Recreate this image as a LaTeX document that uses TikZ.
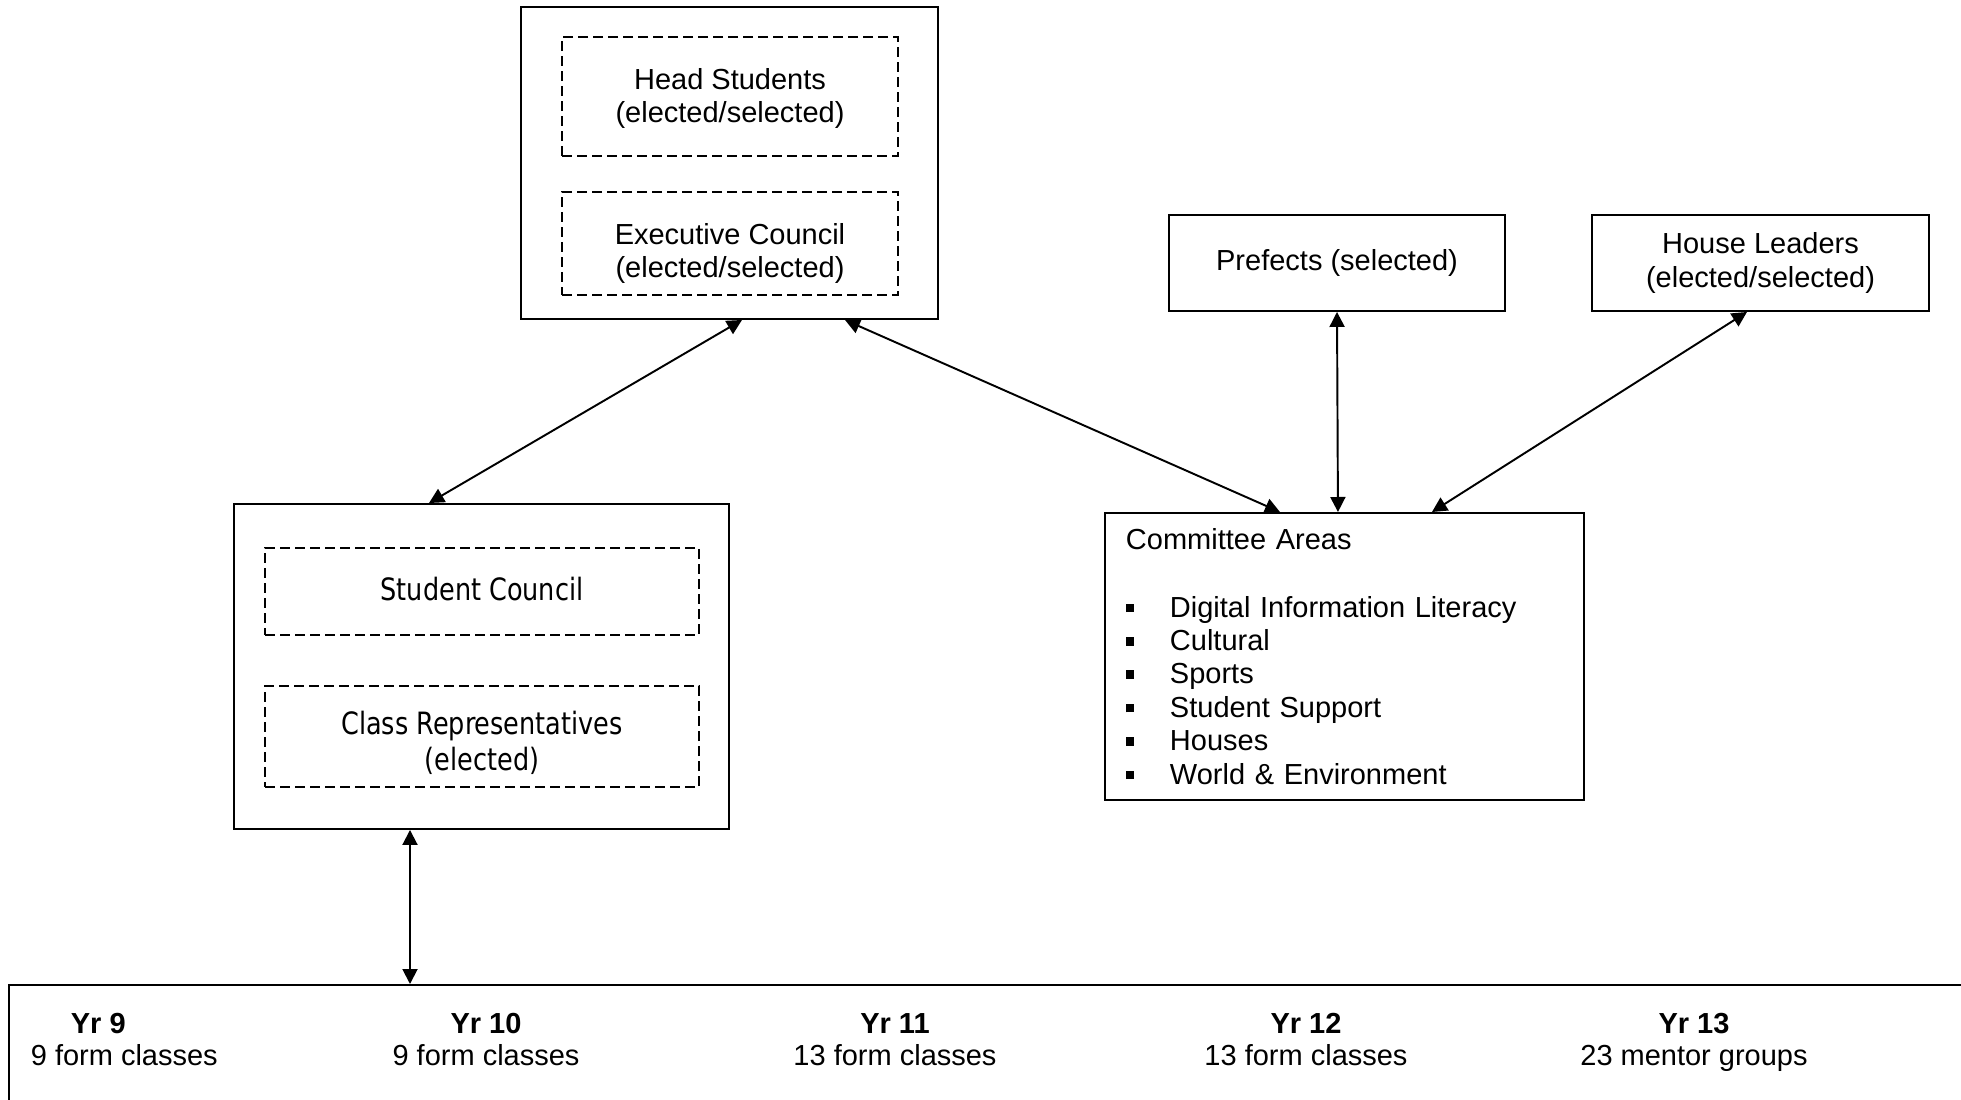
\documentclass[tikz,border=0pt]{standalone}
\usepackage{fontspec}
\setmainfont{Liberation Sans}
\newfontfamily\tahoma[FakeStretch=0.83]{DejaVu Sans}
\usetikzlibrary{arrows.meta}
\newcommand{\sqitem}{\makebox[0.88cm][l]{\rule[0.1cm]{0.17cm}{0.17cm}}}

\begin{document}
\begin{tikzpicture}[font=\fontsize{16.5}{19}\selectfont]
  \tikzstyle{box}=[rectangle, draw, line width=1.1pt, align=center, inner sep=0pt]
  \tikzstyle{dbox}=[rectangle, draw, line width=1pt, dash pattern=on 0.2cm off 0.1cm, align=center, inner sep=0pt]
  \tikzstyle{tbox}=[dbox, font=\tahoma\fontsize{17.5}{20}\selectfont]
  \tikzstyle{year}=[inner sep=0pt, align=center, anchor=north, font=\fontsize{16.5}{18.2}\selectfont]
  \tikzstyle{link}=[line width=1.1pt, {Triangle[length=0.3cm, width=0.3cm]}-{Triangle[length=0.3cm, width=0.3cm]}]

  \useasboundingbox (0,0) rectangle (39.22,-22);
  \clip (0,0) rectangle (39.22,-22);

  % executive
  \node[box, minimum width=8.34cm, minimum height=6.24cm] (top) at (14.59,-3.26) {};
  \node[dbox, minimum width=6.72cm, minimum height=2.38cm, text height=1.18cm, text depth=0.12cm] (hs) at (14.6,-1.93) {Head Students\\(elected/selected)};
  \node[dbox, minimum width=6.72cm, minimum height=2.06cm, text height=1.5cm, text depth=0.12cm] (ec) at (14.6,-4.87) {Executive Council\\(elected/selected)};

  \node[box, minimum width=6.72cm, minimum height=1.92cm] (pref)  at (26.74,-5.26) {Prefects (selected)};
  \node[box, minimum width=6.74cm, minimum height=1.92cm] (house) at (35.21,-5.26) {House Leaders\\(elected/selected)};

  % student council
  \node[box, minimum width=9.9cm, minimum height=6.5cm] (sc) at (9.63,-13.33) {};
  \node[tbox, minimum width=8.68cm, minimum height=1.74cm, text depth=0.1cm] (scd) at (9.64,-11.83) {Student Council};
  \node[tbox, minimum width=8.68cm, minimum height=2.02cm, text height=1.46cm, text depth=0.12cm] (crd) at (9.64,-14.73) {Class Representatives\\(elected)};

  % committees
  \node[box, anchor=north west, align=left, minimum width=9.58cm, minimum height=5.74cm,
        text width=8.74cm, inner xsep=0.42cm] (comm) at (22.08,-10.24)
    {Committee Areas\\[19.5pt]
     \sqitem Digital Information Literacy\\
     \sqitem Cultural\\
     \sqitem Sports\\
     \sqitem Student Support\\
     \sqitem Houses\\
     \sqitem World \& Environment};

  % year groups
  \node[box, anchor=north west, minimum width=41cm, minimum height=4cm] (years) at (0.16,-19.68) {};
  \node[year, anchor=north west, align=left] (y9) at (0.61,-20.26) {\hspace*{0.8cm}\textbf{Yr 9}\\9 form classes};
  \node[year] (y10) at (9.72,-20.26)  {\textbf{Yr 10}\\9 form classes};
  \node[year] (y11) at (17.9,-20.26)  {\textbf{Yr 11}\\13 form classes};
  \node[year] (y12) at (26.12,-20.26) {\textbf{Yr 12}\\13 form classes};
  \node[year] (y13) at (33.88,-20.26) {\textbf{Yr 13}\\23 mentor groups};

  \coordinate (scfoot) at ([xshift=-1.43cm]sc.south);

  \path[link] ([xshift=0.25cm]top.south) edge ([xshift=-1.05cm]sc.north);
  \path[link] ([xshift=2.31cm]top.south) edge ([xshift=-1.29cm]comm.north);
  \path[link] (pref.south) edge ([xshift=-0.13cm]comm.north);
  \path[link] ([xshift=-0.27cm]house.south) edge ([xshift=1.75cm]comm.north);
  \path[link] (scfoot) edge (scfoot |- years.north);
\end{tikzpicture}
\end{document}
